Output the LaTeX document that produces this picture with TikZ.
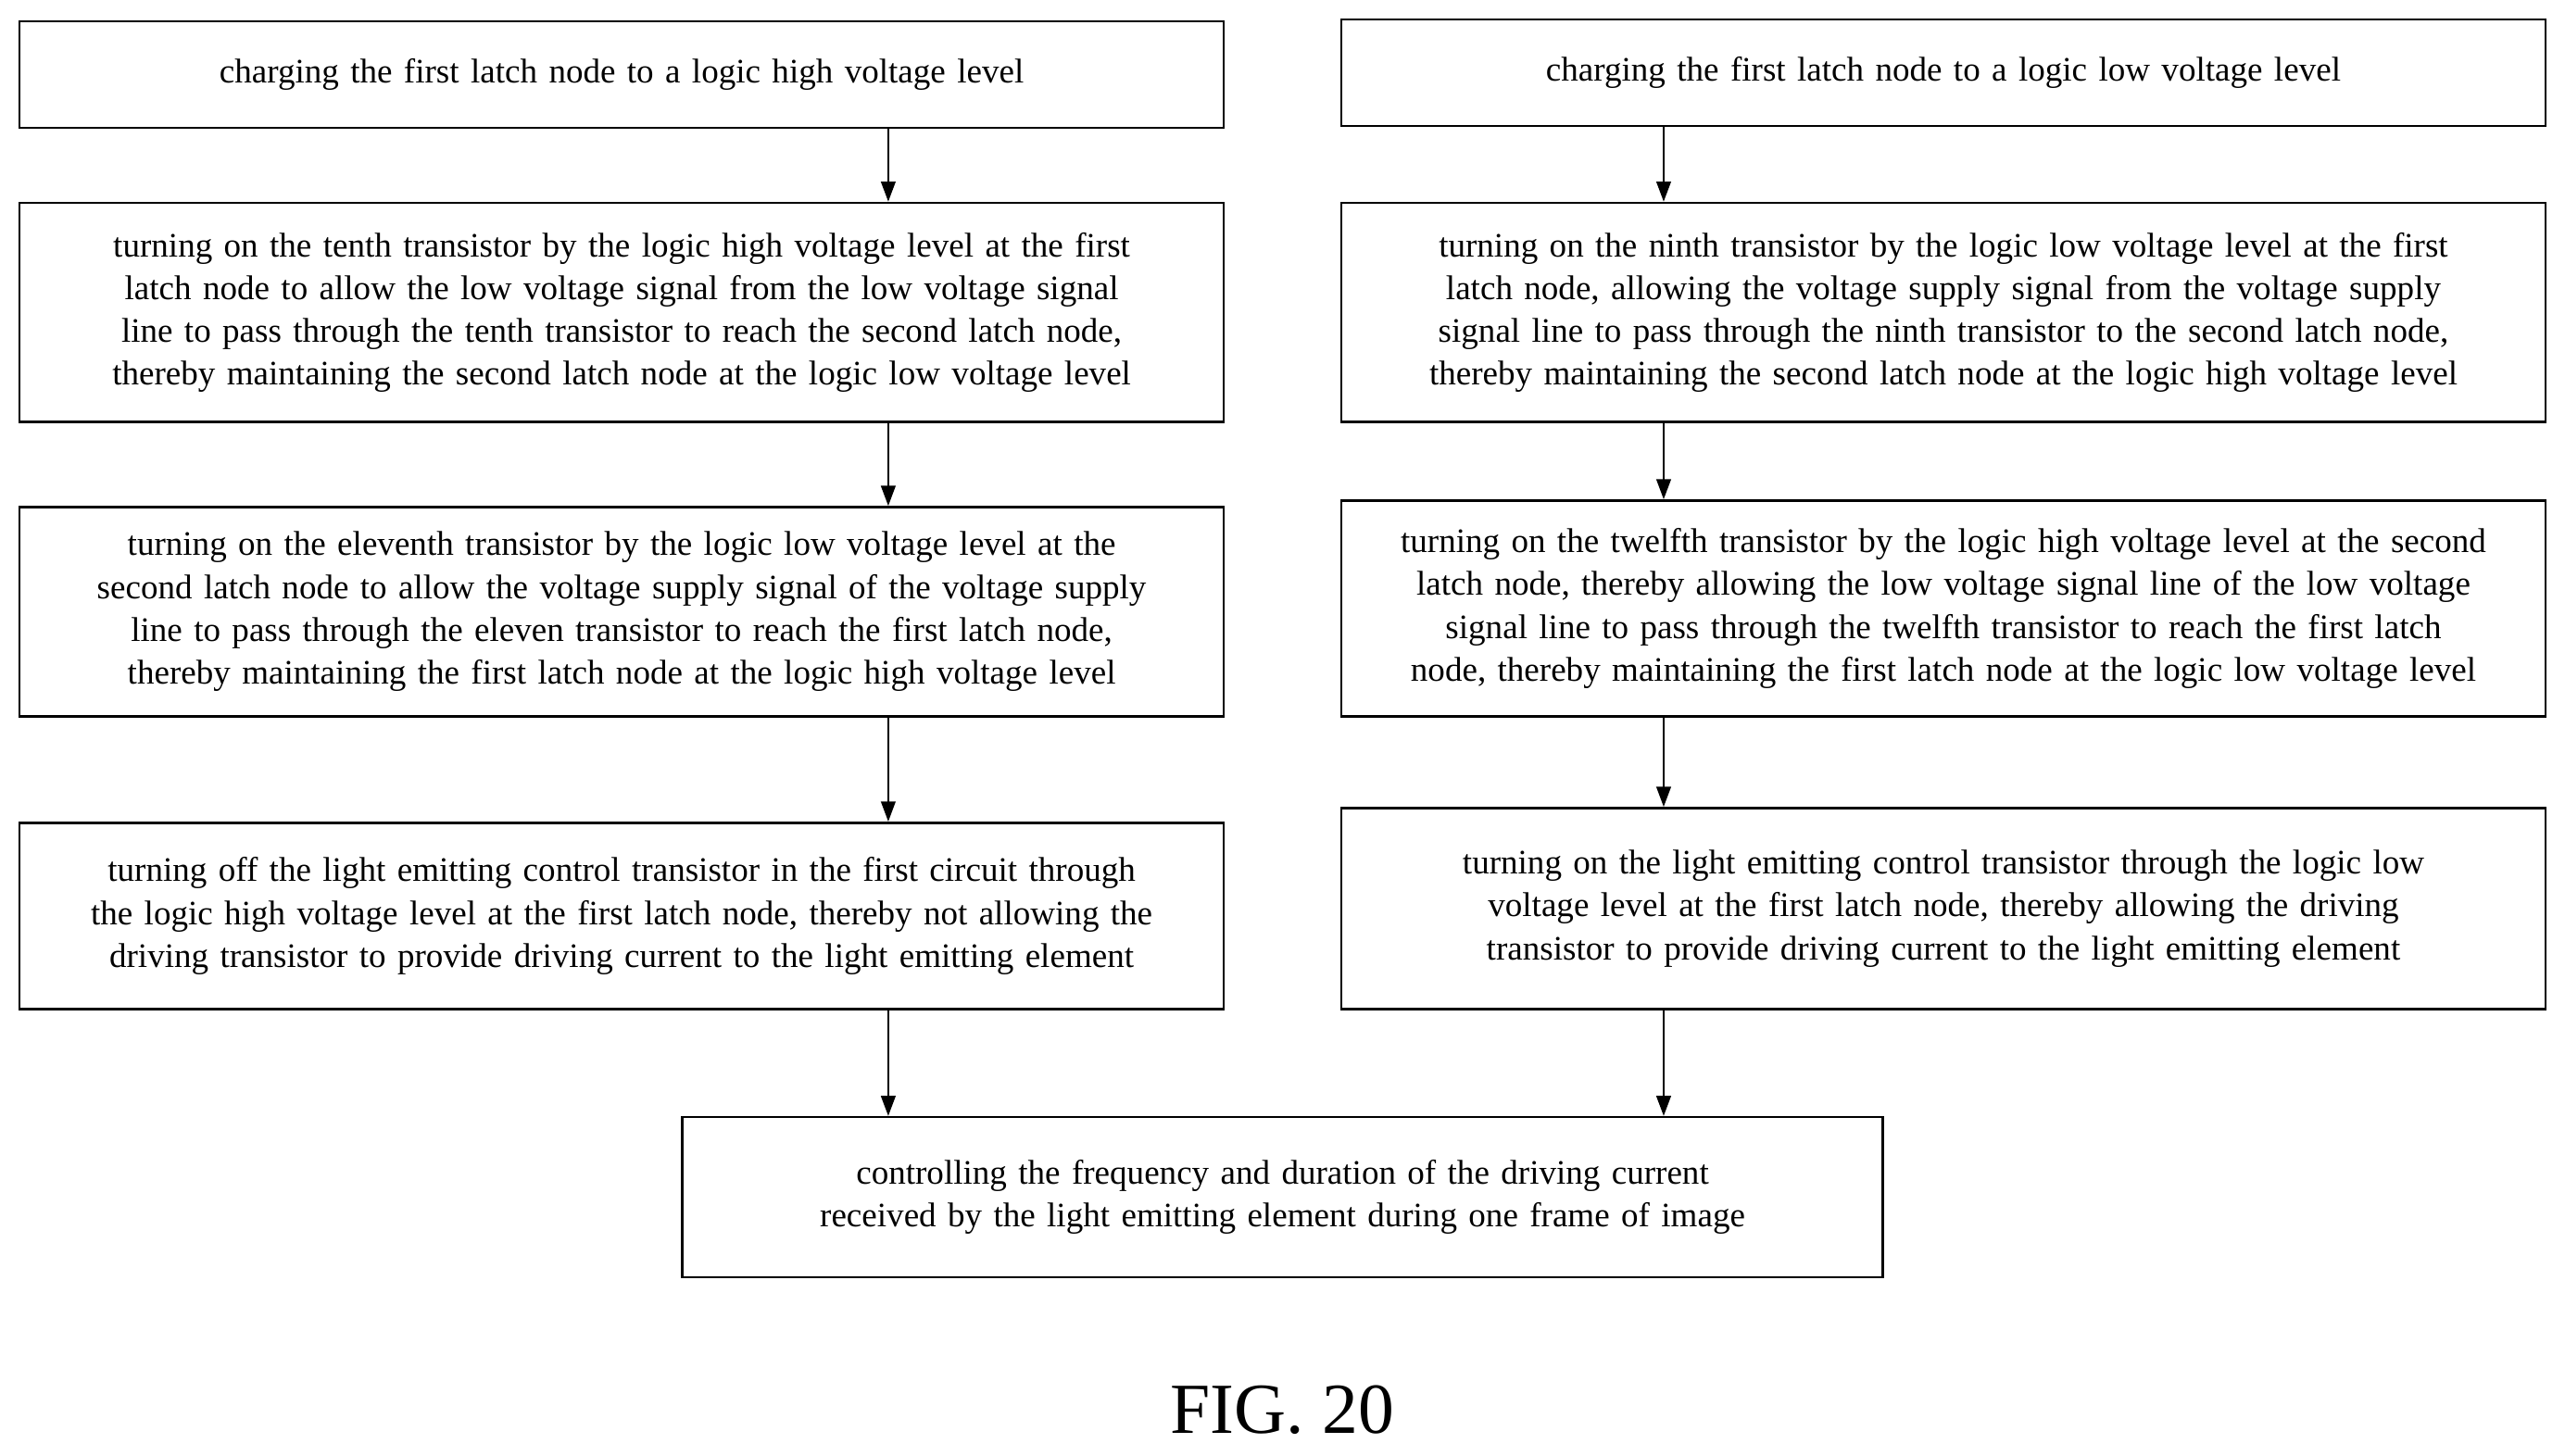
\documentclass[tikz,border=0pt]{standalone}
\usepackage{fontspec}
\setmainfont{Liberation Serif}
\usetikzlibrary{arrows.meta}
\begin{document}
\begin{tikzpicture}[x=0.02cm,y=-0.02cm,
 box/.style={draw,line width=0.8pt,align=center,inner sep=0pt,font=\fontsize{11.95}{14.9}\selectfont,execute at begin node={\hyphenpenalty=10000\exhyphenpenalty=10000\relax}},
 arr/.style={-{Triangle[length=7pt,width=5pt]},line width=0.8pt}]
\useasboundingbox (0,0) rectangle (1568,890);
\newcommand\bx[7]{\node[box,minimum width={(#3-#2)*0.02cm},minimum height={(#5-#4)*0.02cm},text width=#6cm] (#1) at ({(#2+#3)/2},{(#4+#5)/2}) {#7};}
\bx{L1}{12}{748}{13}{78}{14.5}{charging the first latch node to a logic high voltage level}
\bx{R1}{820}{1556}{12}{77}{14.5}{charging the first latch node to a logic low voltage level}
\bx{L2}{12}{748}{124}{258}{14.5}{turning on the tenth transistor by the logic high voltage level at the first latch node to allow the low voltage signal from the low voltage signal line to pass through the tenth transistor to reach the second latch node, thereby maintaining the second latch node at the logic low voltage level}
\bx{R2}{820}{1556}{124}{258}{14.5}{turning on the ninth transistor by the logic low voltage level at the first latch node, allowing the voltage supply signal from the voltage supply signal line to pass through the ninth transistor to the second latch node, thereby maintaining the second latch node at the logic high voltage level}
\bx{L3}{12}{748}{310}{438}{14.5}{turning on the eleventh transistor by the logic low voltage level at the second latch node to allow the voltage supply signal of the voltage supply line to pass through the eleven transistor to reach the first latch node, thereby maintaining the first latch node at the logic high voltage level}
\bx{R3}{820}{1556}{306}{438}{14.5}{turning on the twelfth transistor by the logic high voltage level at the second latch node, thereby allowing the low voltage signal line of the low voltage signal line to pass through the twelfth transistor to reach the first latch node, thereby maintaining the first latch node at the logic low voltage level}
\bx{L4}{12}{748}{503}{617}{14.5}{turning off the light emitting control transistor in the first circuit through the logic high voltage level at the first latch node, thereby not allowing the driving transistor to provide driving current to the light emitting element}
\bx{R4}{820}{1556}{494}{617}{14.5}{turning on the light emitting control transistor through the logic low voltage level at the first latch node, thereby allowing the driving transistor to provide driving current to the light emitting element}
\bx{B}{417}{1151}{683}{781}{14.4}{controlling the frequency and duration of the driving current received by the light emitting element during one frame of image}
\node[font=\fontsize{25}{30}\selectfont] (fig) at (784,862) {FIG. 20};
\foreach \a/\b in {L1/L2,L2/L3,L3/L4}{\draw[arr] (543,0 |- \a.south) -- (543,0 |- \b.north);}
\foreach \a/\b in {R1/R2,R2/R3,R3/R4}{\draw[arr] (1017,0 |- \a.south) -- (1017,0 |- \b.north);}
\draw[arr] (543,0 |- L4.south) -- (543,0 |- B.north);
\draw[arr] (1017,0 |- R4.south) -- (1017,0 |- B.north);
\end{tikzpicture}
\end{document}
